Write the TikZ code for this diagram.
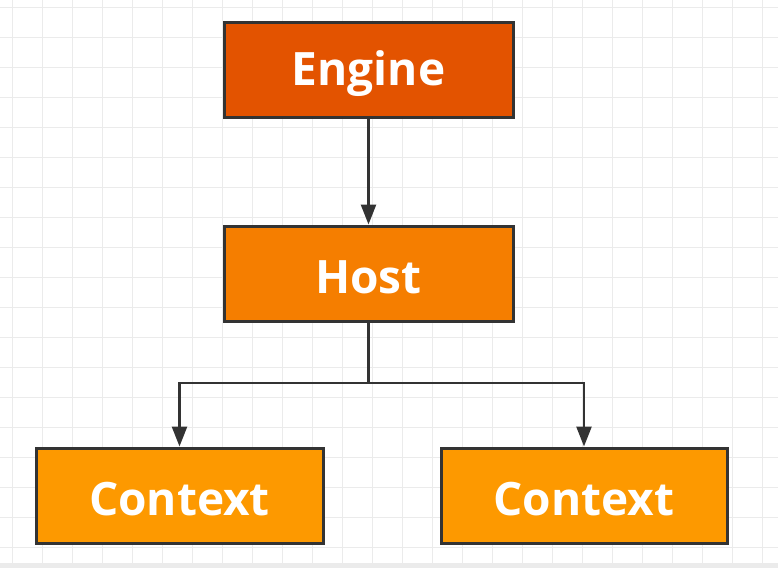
\documentclass[tikz,border=0pt]{standalone}
\usepackage{fontspec}
\setmainfont{Open Sans}
\usetikzlibrary{arrows.meta}
\definecolor{gridc}{HTML}{EBEBEB}
\definecolor{engc}{HTML}{E35300}
\definecolor{hostc}{HTML}{F57E00}
\definecolor{ctxc}{HTML}{FD9900}
\definecolor{edgec}{HTML}{333333}
\tikzset{
  box/.style={draw=edgec, line width=3pt, minimum width=289pt, minimum height=95pt,
    inner sep=0pt, text=white, font=\fontsize{46}{52}\selectfont\bfseries},
  lbl/.style={yshift=-4pt},
  conn/.style={draw=edgec, line width=2.6pt, -{Triangle[length=20pt,width=15pt]}},
}
\begin{document}
\begin{tikzpicture}[x=1pt,y=-1pt]
\useasboundingbox (0,0) rectangle (778,568);
\fill[white] (0,0) rectangle (778,568);
\foreach \i in {0,...,25} {\draw[gridc, line width=1pt] (12+30*\i,0) -- (12+30*\i,568);}
\foreach \j in {0,...,18} {\draw[gridc, line width=1pt] (0,7.5+30*\j) -- (778,7.5+30*\j);}
\fill[gridc] (0,563) rectangle (778,568);
\node[box, fill=engc] (engine) at (368.5,69.5) {};
\node[box, fill=hostc] (host) at (368.5,273.5) {};
\node[box, fill=ctxc, minimum width=287pt] (ctx1) at (179.5,495.5) {};
\node[box, fill=ctxc, minimum width=286pt] (ctx2) at (584,495.5) {};
\node[box, draw=none, lbl] (engineT) at (engine) {Engine};
\node[box, draw=none, lbl] (hostT) at (host) {Host};
\node[box, draw=none, lbl] (ctx1T) at (ctx1) {Context};
\node[box, draw=none, lbl] (ctx2T) at (ctx2) {Context};
\draw[conn] (engine.south) -- (host.north);
\coordinate (split) at (368.5,383);
\draw[conn] (host.south) -- (split) -| (ctx1.north);
\draw[conn] (split) -| (ctx2.north);
\end{tikzpicture}
\end{document}
